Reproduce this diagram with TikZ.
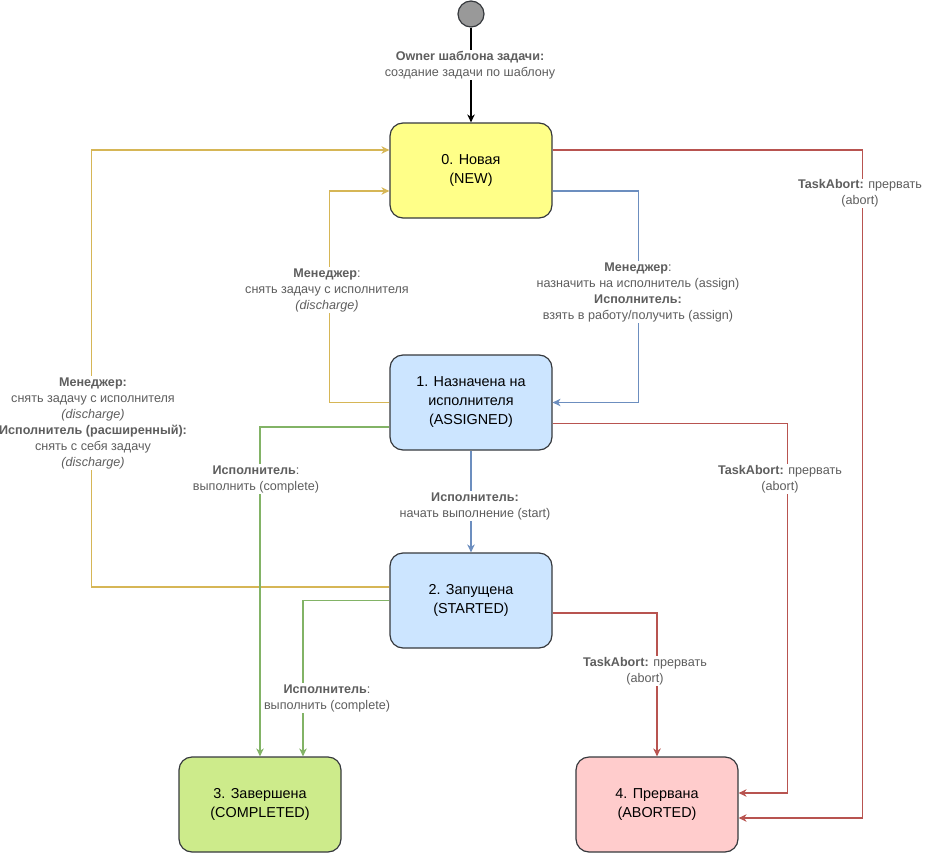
\documentclass[tikz,border=0pt]{standalone}
\usepackage{fontspec}
\setmainfont{Liberation Sans}
\usetikzlibrary{arrows.meta}
\definecolor{cred}{HTML}{B85450}
\definecolor{cblue}{HTML}{6C8EBF}
\definecolor{cgreen}{HTML}{82B366}
\definecolor{corange}{HTML}{D6B656}
\definecolor{nodeline}{HTML}{36393D}
\definecolor{fyellow}{HTML}{FFFF88}
\definecolor{fblue}{HTML}{CCE5FF}
\definecolor{fgreen}{HTML}{CDEB8B}
\definecolor{fred}{HTML}{FFCCCC}
\definecolor{lblgray}{HTML}{5E5E5E}
\definecolor{startfill}{HTML}{999999}
\begin{document}
\begin{tikzpicture}[x=1pt,y=-1pt,
  state/.style={draw=nodeline, line width=1.2pt, rounded corners=13pt,
    minimum width=162pt, minimum height=95pt, align=center, inner sep=0pt,
    font=\fontsize{14.4}{19}\selectfont},
  lbl/.style={fill=white, text=lblgray, align=center, inner sep=1pt,
    font=\fontsize{12.6}{16}\selectfont},
  conn/.style={line width=1.3pt, -{Stealth[length=8pt,width=7.5pt,inset=2.5pt]}}]
\useasboundingbox (0,0) rectangle (929,854);

% states
\node[circle, draw=nodeline, fill=startfill, line width=1.2pt, minimum size=26pt, inner sep=0pt] (start) at (471,14) {};
\node[state, fill=fyellow] (n0) at (471,170.5) {0. Новая\\(NEW)};
\node[state, fill=fblue] (n1) at (471,402.5) {1. Назначена на\\исполнителя\\(ASSIGNED)};
\node[state, fill=fblue] (n2) at (471,600.5) {2. Запущена\\(STARTED)};
\node[state, fill=fgreen] (n3) at (260,804.5) {3. Завершена\\(COMPLETED)};
\node[state, fill=fred] (n4) at (657,804.5) {4. Прервана\\(ABORTED)};

% connectors
\draw[conn, black] (start) -- (n0);
\draw[conn, cred] ([yshift=20.5pt]n0.east) -| ([xshift=124pt,yshift=-13.5pt]n4.east) -- ([yshift=-13.5pt]n4.east);
\draw[conn, cblue] ([yshift=-20.5pt]n0.east) -| ([xshift=86pt]n1.east) -- (n1.east);
\draw[conn, corange] (n1.west) -| ([xshift=-60pt,yshift=-20.5pt]n0.west) -- ([yshift=-20.5pt]n0.west);
\draw[conn, corange] ([yshift=13.5pt]n2.west) -| ([xshift=-298pt,yshift=20.5pt]n0.west) -- ([yshift=20.5pt]n0.west);
\draw[conn, cblue] (n1.south) -- (n2.north);
\draw[conn, cgreen] ([yshift=-24.5pt]n1.west) -| (n3.north);
\draw[conn, cgreen] (n2.west) -| ([xshift=43pt]n3.north);
\draw[conn, cred] ([yshift=-21pt]n1.east) -| ([xshift=49pt,yshift=11.5pt]n4.east) -- ([yshift=11.5pt]n4.east);
\draw[conn, cred] ([yshift=-12.5pt]n2.east) -| (n4.north);

% labels
\node[lbl] (lstart) at (470,65) {\textbf{Owner шаблона задачи:}\\создание задачи по шаблону};
\node[lbl] (labort0) at (860,193.5) {\textbf{TaskAbort:} прервать\\(abort)};
\node[lbl] (lassign) at (638,292) {\textbf{Менеджер}:\\назначить на исполнитель (assign)\\\textbf{Исполнитель:}\\взять в работу/получить (assign)};
\node[lbl] (ldis1) at (327,290) {\textbf{Менеджер}:\\снять задачу с исполнителя\\\textit{(discharge)}};
\node[lbl] (ldis2) at (93,423) {\textbf{Менеджер:}\\снять задачу с исполнителя\\\textit{(discharge)}\\\textbf{Исполнитель (расширенный):}\\снять с себя задачу\\\textit{(discharge)}};
\node[lbl] (lcomp1) at (256,479) {\textbf{Исполнитель}:\\выполнить (complete)};
\node[lbl] (lstart2) at (475,506) {\textbf{Исполнитель:}\\начать выполнение (start)};
\node[lbl] (lcomp2) at (327,698) {\textbf{Исполнитель}:\\выполнить (complete)};
\node[lbl] (labort1) at (780,479) {\textbf{TaskAbort:} прервать\\(abort)};
\node[lbl] (labort2) at (645,671) {\textbf{TaskAbort:} прервать\\(abort)};
\end{tikzpicture}
\end{document}
